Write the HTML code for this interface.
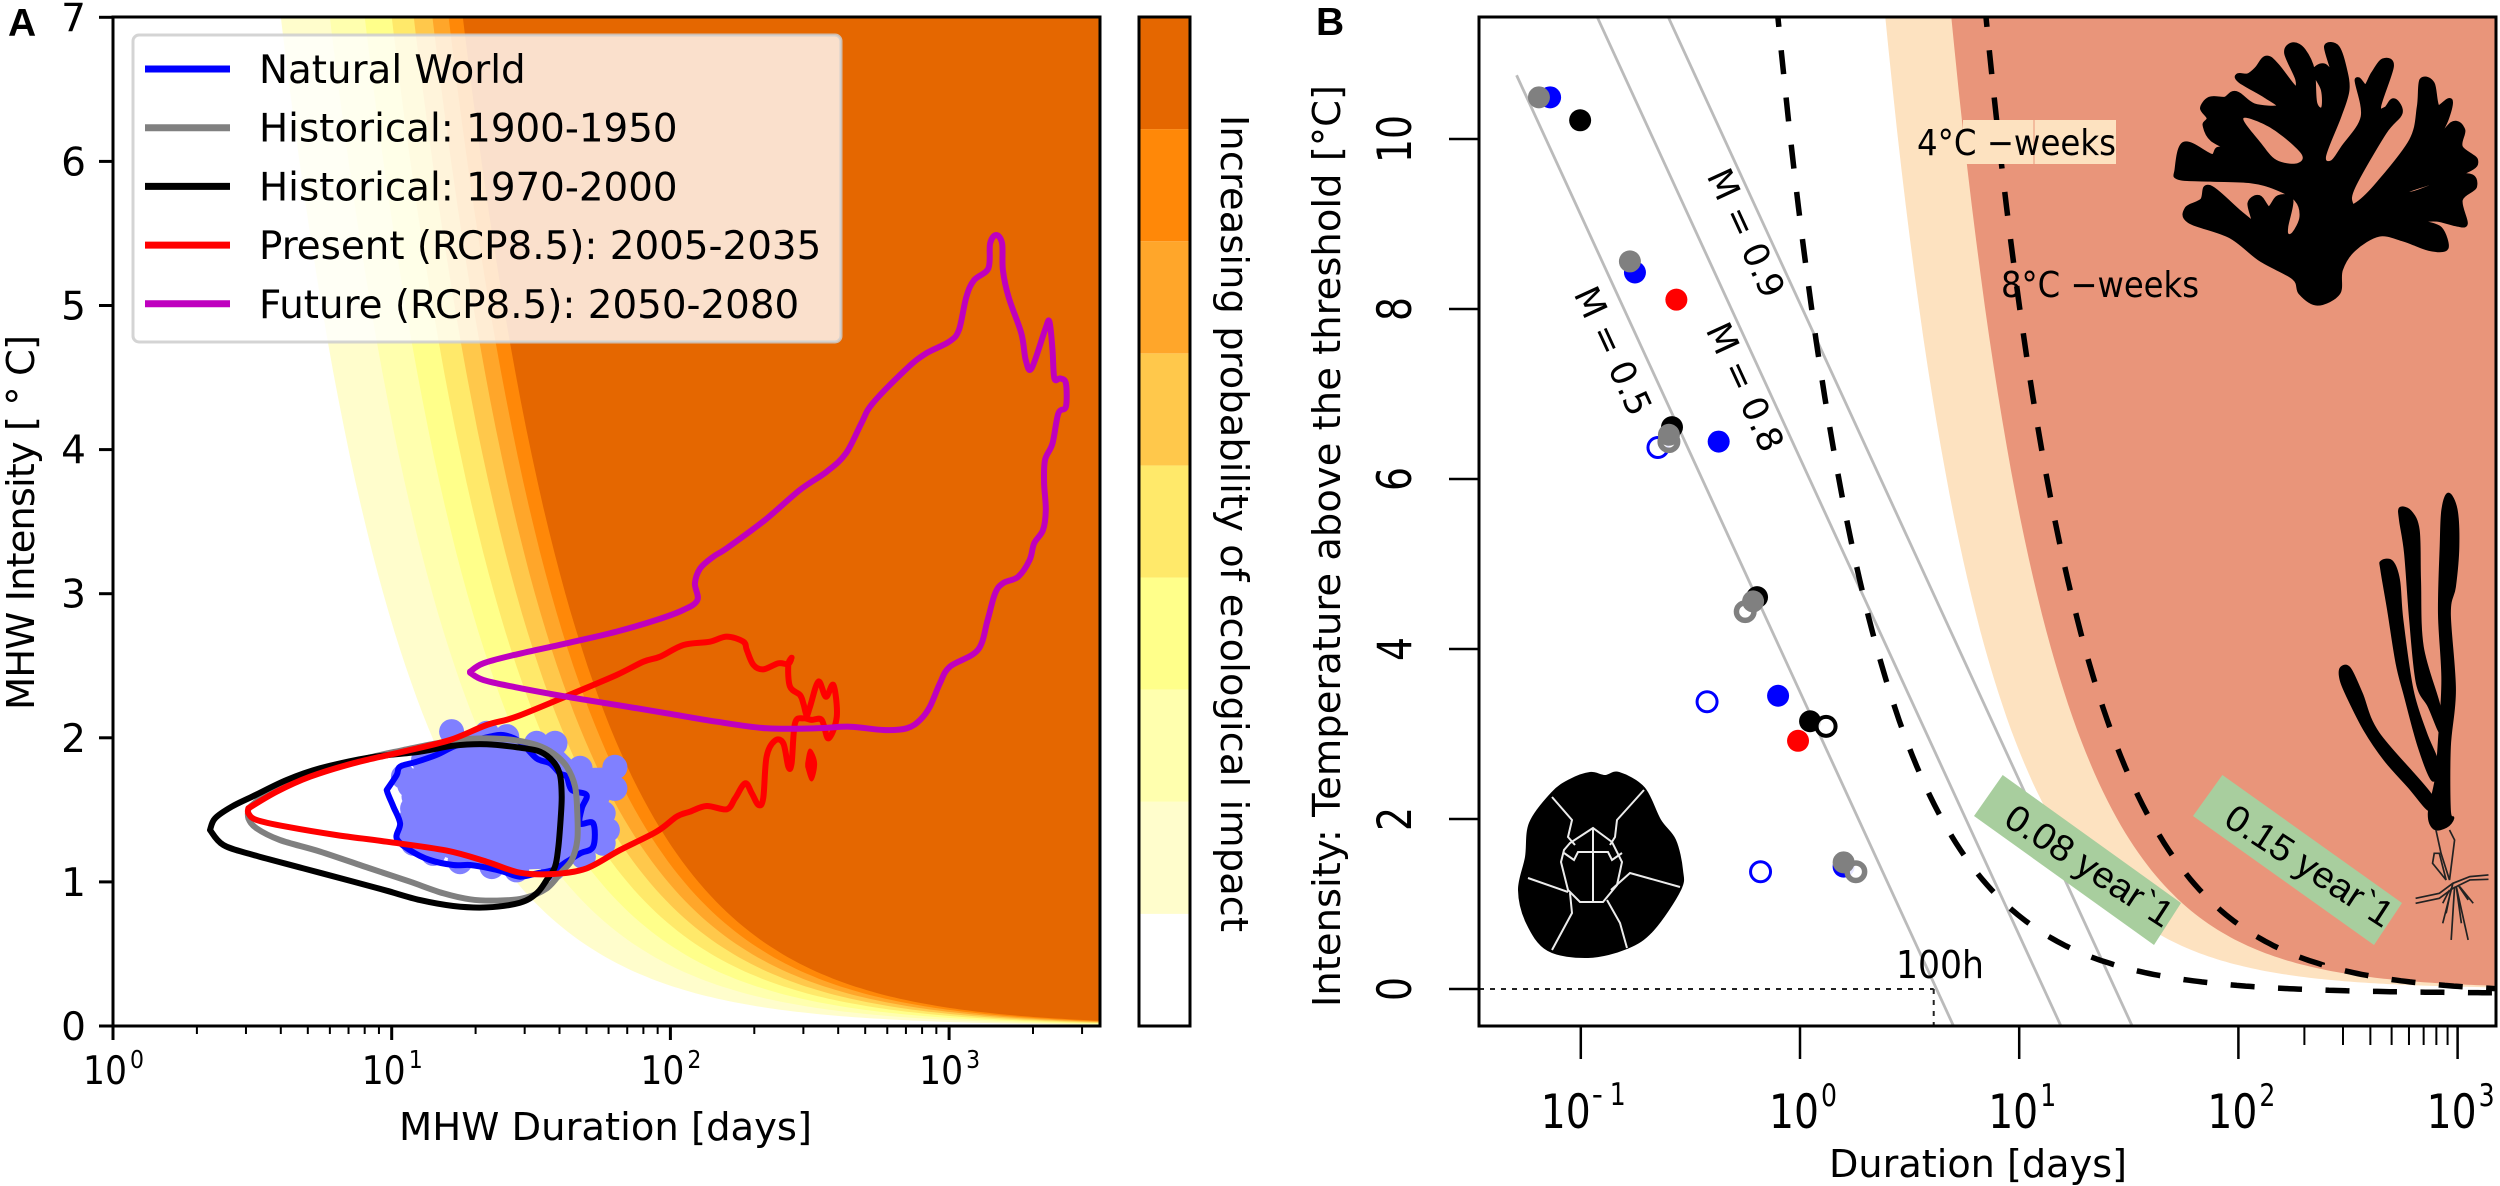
<!DOCTYPE html>
<html lang="en">
<head>
<meta charset="utf-8">
<title>Marine heatwave duration and intensity</title>
<style>
html,body{margin:0;padding:0;background:#fff;}
svg{display:block;}
text{font-family:"DejaVu Sans","Liberation Sans",sans-serif;fill:#000;}
</style>
</head>
<body>
<svg id="fig" xmlns="http://www.w3.org/2000/svg" width="2500" height="1186" viewBox="0 0 2500 1186">
  <defs>
    <clipPath id="clipA"><rect x="113" y="17" width="987" height="1009"/></clipPath>
    <clipPath id="clipB"><rect x="1479" y="17" width="1017" height="1009"/></clipPath>
  </defs>
  <rect width="2500" height="1186" fill="#fff"/>

  <g id="panelA">
    <g id="aPlot" clip-path="url(#clipA)"></g>
    <rect x="113" y="17" width="987" height="1009" fill="none" stroke="#000" stroke-width="3"/>
    <g id="aTicks"></g>
  </g>

  <g id="legend">
    <rect x="133" y="35" width="708" height="307" rx="6" fill="#fff" fill-opacity="0.8" stroke="#ccc" stroke-opacity="0.85" stroke-width="3"/>
  </g>

  <g id="colorbar"></g>
  <rect x="1139" y="17" width="51" height="1009" fill="none" stroke="#000" stroke-width="3"/>
  <text transform="translate(1221,115) rotate(90)" font-size="38.3" textLength="817" lengthAdjust="spacing">Increasing probability of ecological impact</text>

  <text x="8" y="36" font-size="39" font-weight="bold" style="font-family:'Liberation Sans',sans-serif">A</text>
  <text transform="translate(34,710) rotate(-90)" font-size="38.5" textLength="375" lengthAdjust="spacing">MHW Intensity [ ° C]</text>
  <text x="399" y="1140" font-size="38.5" textLength="413" lengthAdjust="spacingAndGlyphs">MHW Duration [days]</text>

  <g id="panelB">
    <g id="bPlot" clip-path="url(#clipB)"></g>
    <g id="bAnn">
      <rect x="1963" y="120" width="153" height="44" fill="#fde2c0"/>
      <line x1="2034" y1="120" x2="2034" y2="164" stroke="#e9957a" stroke-width="1"/>
      <text x="1917" y="155" font-size="36" textLength="199" lengthAdjust="spacingAndGlyphs">4°C −weeks</text>
      <text x="2001" y="297" font-size="36" textLength="198" lengthAdjust="spacingAndGlyphs">8°C −weeks</text>
      <text x="1896" y="978" font-size="38" textLength="88" lengthAdjust="spacingAndGlyphs">100h</text>
      <text transform="translate(1602,356) rotate(65.3)" font-size="35" text-anchor="middle">M = 0.5</text>
      <text transform="translate(1734,392) rotate(65.3)" font-size="35" text-anchor="middle">M = 0.8</text>
      <text transform="translate(1735,238) rotate(65.3)" font-size="35" text-anchor="middle">M = 0.9</text>

      <polygon points="2002.7,775 2181,903 2154,945 1974,816" fill="#a8ce9e"/>
      <text transform="translate(2002,824) rotate(33)" font-size="37" textLength="192" lengthAdjust="spacingAndGlyphs" style="font-family:'Liberation Sans',sans-serif">0.08 year`1</text>
      <polygon points="2222.4,775 2402,903 2374,945 2193,816" fill="#a8ce9e"/>
      <text transform="translate(2222,824) rotate(33)" font-size="37" textLength="192" lengthAdjust="spacingAndGlyphs" style="font-family:'Liberation Sans',sans-serif">0.15 year`1</text>

      <g transform="translate(1700,0) scale(0.5102,0.3333)">
        <path class="smooth-shape" fill="#000" stroke="#000" stroke-width="10" stroke-linejoin="round" data-outline="1210,912 1178,880 1165,835 1100,780 1040,710 960,665 955,625 985,600 998,560 1060,640 1085,665 1078,610 1095,590 1115,625 1135,590 1158,600 1148,680 1150,705 1165,700 1180,650 1170,600 1130,565 1080,545 1000,540 940,535 935,510 950,430 1003,467 1018,445 1055,460 1005,420 990,375 998,355 985,325 1000,295 1030,295 1050,278 1085,315 1135,320 1110,290 1060,245 1055,225 1075,225 1092,205 1110,172 1130,195 1165,262 1172,240 1150,160 1162,132 1182,150 1200,210 1205,310 1222,325 1222,270 1205,215 1222,195 1242,222 1228,140 1248,140 1262,200 1268,270 1252,350 1222,470 1240,485 1262,440 1300,350 1288,240 1305,260 1320,220 1340,180 1355,200 1330,320 1345,325 1360,300 1372,340 1340,400 1280,560 1275,610 1290,610 1330,550 1395,420 1410,320 1415,240 1435,250 1445,320 1470,300 1462,360 1435,445 1475,370 1495,390 1490,440 1520,480 1500,515 1390,570 1400,578 1500,525 1518,560 1490,600 1500,670 1485,675 1445,660 1415,665 1450,685 1462,745 1430,748 1380,720 1330,705 1280,750 1255,810 1250,880"></path>
        <path class="smooth-shape" fill="#e9957a" data-outline="1065,355 1120,385 1178,460 1170,490 1130,480 1100,430"></path>
      </g>

      <g transform="translate(2280,480) scale(0.339,0.3333)">
        <path class="smooth-shape" fill="#000" stroke="#000" stroke-width="8" data-outline="497,42 520,90 525,200 515,320 500,400 515,630 500,800 500,990 510,1015 490,1040 455,1045 440,1000 460,900 470,780 480,600 470,400 475,200 480,90"></path>
        <path class="smooth-shape" fill="#000" stroke="#000" stroke-width="8" data-outline="355,85 385,95 408,150 412,300 420,500 470,680 475,760 440,680 405,610 385,420 370,220 355,120"></path>
        <path class="smooth-shape" fill="#000" stroke="#000" stroke-width="8" data-outline="300,245 330,245 350,300 360,420 390,630 430,760 465,850 450,900 410,800 370,650 345,550 320,390 300,270"></path>
        <path class="smooth-shape" fill="#000" stroke="#000" stroke-width="8" data-outline="180,565 205,565 240,640 290,760 445,945 440,990 380,920 310,840 250,750 200,650 180,600"></path>
        <g fill="none" stroke="#222" stroke-width="5">
          <path d="M460,1050 L475,1120 L500,1200 L515,1080 L500,1050"/>
          <path d="M455,1120 L450,1150 L490,1200 L470,1120 Z"/>
          <path d="M400,1255 L470,1240 L510,1210 L560,1190 L615,1185"/>
          <path d="M400,1270 L470,1255 L510,1225 L560,1200 L615,1198"/>
          <path d="M510,1210 L480,1330 M515,1220 L505,1380 M520,1220 L555,1380 M530,1220 L570,1270 M500,1230 L480,1270 M520,1220 L535,1330 M525,1215 L555,1260 M505,1225 L490,1300"/>
        </g>
      </g>

      <g>
        <path class="smooth-shape" fill="#000" stroke="#000" stroke-width="2" stroke-linejoin="round" data-outline="1590,773 1570,780 1552,793 1530,823 1526,857 1519,890 1527,923 1548,950 1588,957 1627,948 1653,930 1680,890 1682,870 1675,840 1660,820 1644,788 1619,773 1605,776"></path>
        <g fill="none" stroke="#ececec" stroke-width="2">
          <path d="M1552,797 L1572,820 L1568,837 L1575,845"/>
          <path d="M1644,790 L1617,820 L1615,837 L1610,845"/>
          <path d="M1593,828 L1570,843 L1564,850 L1561,862 L1568,890 L1580,902 L1603,902 L1617,885 L1622,862 L1612,842 Z"/>
          <path d="M1593,828 L1593,902"/>
          <path d="M1564,853 L1574,860 L1578,852 L1608,852 L1612,860 L1622,853"/>
          <path d="M1570,893 L1572,913 L1552,950"/>
          <path d="M1607,900 L1620,923 L1627,948"/>
          <path d="M1528,878 L1568,892"/>
          <path d="M1680,887 L1630,873 L1611,890"/>
        </g>
      </g>
    </g>
    <g id="bDots" clip-path="url(#clipB)"></g>
    <rect x="1479" y="17" width="1017" height="1009" fill="none" stroke="#000" stroke-width="3"/>
    <g id="bTicks"></g>
  </g>

  <text x="1316" y="35" font-size="39" font-weight="bold" style="font-family:'Liberation Sans',sans-serif">B</text>
  <text transform="translate(1340,1007) rotate(-90)" font-size="38.4" textLength="922" lengthAdjust="spacing">Intensity: Temperature above the threshold [°C]</text>
  <text x="1829" y="1177" font-size="38.2" textLength="298" lengthAdjust="spacingAndGlyphs">Duration [days]</text>
</svg>

<script>
// ---------- Panel A data ----------
const contourLevels = [28, 42, 56, 70, 84, 98, 112, 126];
const bandColors = ['#ffffff', '#fffdcc', '#ffffae', '#ffff8a', '#ffe96a', '#ffc84b', '#ffa62a', '#ff8808', '#e56700'];

const aYTicks = [0, 1, 2, 3, 4, 5, 6, 7];
const aXDecades = [0, 1, 2, 3];
const aMinorMultipliers = [2, 3, 4, 5, 6, 7, 8, 9];

const legendLabels = ['Natural World', 'Historical: 1900-1950', 'Historical: 1970-2000', 'Present (RCP8.5): 2005-2035', 'Future (RCP8.5): 2050-2080'];
const legendColors = ['#0000ff', '#808080', '#000000', '#ff0000', '#bf00bf'];

const naturalLogDur = [1.042,1.114,1.215,1.341,1.413,1.520,1.586,1.676,1.801,1.801,1.759,1.774,1.759,1.688,1.580,1.448,1.359,1.245,1.149,1.078,1.060,1.068,1.075,1.080,1.065];
const naturalIntensity = [1.730,1.846,2.043,2.031,2.008,1.962,1.962,1.788,1.795,1.649,1.476,1.360,1.268,1.175,1.094,1.083,1.106,1.140,1.198,1.268,1.330,1.430,1.510,1.592,1.670];

const blueLogDur = [.982,1.018,1.030,1.090,1.161,1.221,1.281,1.353,1.401,1.460,1.520,1.568,1.604,1.628,1.646,1.699,1.682,1.676,1.723,1.723,1.676,1.628,1.580,1.520,1.460,1.401,1.353,1.281,1.221,1.137,1.065,1.018,1.030,1.006,.988,.982];
const blueIntensity = [1.638,1.742,1.800,1.834,1.881,1.938,1.973,2.008,2.019,1.973,1.857,1.823,1.753,1.730,1.638,1.603,1.511,1.406,1.406,1.245,1.198,1.140,1.083,1.059,1.036,1.071,1.094,1.117,1.117,1.152,1.221,1.302,1.406,1.522,1.603,1.638];

const greyLogDur = [.486,.563,.683,.803,.922,1.042,1.161,1.257,1.341,1.436,1.520,1.580,1.628,1.658,1.666,1.666,1.646,1.610,1.556,1.472,1.377,1.281,1.185,1.065,.922,.743,.599,.515,.486,.486];
const greyIntensity = [1.511,1.626,1.719,1.795,1.864,1.915,1.962,1.989,1.996,1.985,1.950,1.892,1.800,1.661,1.476,1.291,1.152,1.071,.955,.886,.870,.879,.921,1.002,1.094,1.210,1.291,1.372,1.441,1.511];

const blackLogDur = [.348,.366,.426,.504,.623,.743,.922,1.102,1.221,1.341,1.460,1.532,1.580,1.604,1.610,1.606,1.598,1.586,1.556,1.520,1.460,1.341,1.221,1.102,.982,.862,.683,.504,.396,.348];
const blackIntensity = [1.360,1.441,1.522,1.596,1.707,1.788,1.864,1.904,1.945,1.955,1.931,1.904,1.834,1.742,1.592,1.430,1.245,1.106,1.013,.921,.856,.823,.833,.874,.939,1.002,1.094,1.187,1.256,1.360];

const redLogDur = [.486,.486,.515,.623,.803,.982,1.197,1.341,1.460,1.580,1.699,1.819,1.951,2.023,2.070,2.130,2.202,2.232,2.268,2.292,2.316,2.333,2.345,2.375,2.405,2.423,2.435,2.447,2.477,2.507,2.543,2.567,2.597,2.585,2.558,2.531,2.501,2.489,2.477,2.465,2.429,2.423,2.435,2.423,2.387,2.333,2.298,2.274,2.262,2.202,2.142,2.047,1.963,1.903,1.807,1.652,1.448,1.341,1.209,1.042,.862,.707,.587,.486];
const redIntensity = [1.511,1.476,1.430,1.383,1.325,1.279,1.217,1.140,1.064,1.055,1.094,1.221,1.349,1.453,1.487,1.527,1.504,1.580,1.684,1.615,1.534,1.580,1.869,1.980,1.962,1.800,1.823,2.100,2.135,2.124,2.124,1.996,2.147,2.366,2.285,2.390,2.216,2.158,2.239,2.297,2.355,2.505,2.556,2.512,2.517,2.475,2.505,2.609,2.667,2.702,2.667,2.644,2.563,2.528,2.436,2.309,2.147,2.089,1.985,1.904,1.823,1.730,1.626,1.511];

const redIslandLogDur = [2.489,2.501,2.521,2.507,2.489];
const redIslandIntensity = [1.823,1.915,1.823,1.707,1.800];

const purpleLogDur = [1.281,1.329,1.448,1.628,1.807,1.987,2.166,2.345,2.525,2.644,2.764,2.848,2.896,2.931,2.967,3.003,3.103,3.138,3.165,3.193,3.248,3.289,3.305,3.337,3.347,3.341,3.344,3.371,3.392,3.419,3.419,3.399,3.378,3.371,3.360,3.344,3.296,3.275,3.259,3.213,3.193,3.190,3.169,3.147,3.141,3.090,3.062,3.035,3.000,2.918,2.849,2.726,2.685,2.630,2.561,2.465,2.339,2.202,2.154,2.107,2.088,2.097,2.046,1.951,1.807,1.628,1.448,1.329,1.281];
const purpleIntensity = [2.452,2.401,2.350,2.285,2.228,2.170,2.112,2.066,2.066,2.077,2.054,2.066,2.124,2.216,2.378,2.494,2.609,2.817,3.002,3.072,3.118,3.234,3.349,3.442,3.581,3.766,3.928,4.043,4.252,4.298,4.460,4.494,4.494,4.691,4.888,4.830,4.564,4.622,4.807,5.061,5.246,5.431,5.489,5.431,5.258,5.177,5.061,4.830,4.749,4.668,4.564,4.321,4.182,3.974,3.847,3.720,3.511,3.315,3.257,3.176,3.072,2.956,2.887,2.818,2.737,2.656,2.579,2.517,2.459];

// ---------- Panel B data ----------
const bYTicks = [0, 2, 4, 6, 8, 10];
const bXDecades = [-1, 0, 1, 2, 3];
const bMinorValues = [200, 300, 400, 500, 600, 700, 800, 900];
const heatFillLevels = [28, 56];
const heatFillColors = ['#fde2c0', '#e9957a'];
const dashedLevels = [9.1, 81];
const dashedOffset = -0.05;

const mortalityLogDurStart = [-1.293, -0.926, -0.602];
const mortalityIntensityStart = [10.75, 11.44, 11.44];
const mortalityLogDurEnd = [0.703, 1.193, 1.518];
const mortalityIntensityEnd = [-0.45, -0.45, -0.45];

const refLogDur = 0.61;
const refIntensity = 0;

const openBlueLogDur = [-.648, -.424, -.180];
const openBlueIntensity = [6.37, 3.38, 1.38];
const blueFilledLogDur = [-1.140, -.753, -.371, -.100, .199];
const blueFilledIntensity = [10.49, 8.43, 6.44, 3.45, 1.44];
const redFilledLogDur = [-.564, -.009];
const redFilledIntensity = [8.11, 2.92];
const blackFilledLogDur = [-1.003, -.584, -.196, .046];
const blackFilledIntensity = [10.22, 6.61, 4.61, 3.15];
const openBlackLogDur = [.119];
const openBlackIntensity = [3.09];
const greyFilledLogDur = [-1.191, -.776, -.598, -.214, .199];
const greyFilledIntensity = [10.49, 8.56, 6.52, 4.56, 1.49];
const openGreyLogDur = [-.598, -.250, .255];
const openGreyIntensity = [6.44, 4.44, 1.38];

// ---------- axis functions ----------
const xA = l => 113 + 278.7 * l;
const yA = v => 1026 - 144.1 * v;
const xB = l => 1800 + 219.2 * l;
const yB = v => 989 - 85 * v;
const yBand = i => 1026 - i * (1009 / 9);

const NS = 'http://www.w3.org/2000/svg';
function make(tag, parent, attrs) {
  const el = document.createElementNS(NS, tag);
  for (const k in attrs) el.setAttribute(k, attrs[k]);
  parent.appendChild(el);
  return el;
}
function smooth(px, py) {
  let d = 'M' + px[0].toFixed(1) + ',' + py[0].toFixed(1);
  for (let i = 0; i < px.length - 1; i++) {
    const p0 = Math.max(i - 1, 0), p3 = Math.min(i + 2, px.length - 1);
    const c1x = px[i] + (px[i + 1] - px[p0]) / 6, c1y = py[i] + (py[i + 1] - py[p0]) / 6;
    const c2x = px[i + 1] - (px[p3] - px[i]) / 6, c2y = py[i + 1] - (py[p3] - py[i]) / 6;
    d += 'C' + c1x.toFixed(1) + ',' + c1y.toFixed(1) + ' ' + c2x.toFixed(1) + ',' + c2y.toFixed(1) + ' ' + px[i + 1].toFixed(1) + ',' + py[i + 1].toFixed(1);
  }
  return d;
}
function isoPoints(level, xf, yf, top, right, offset) {
  const pts = [];
  const off = offset || 0;
  const start = Math.log10(level / (top - off));
  for (let l = start; l <= right + 0.001; l += 0.02) {
    pts.push(xf(l).toFixed(1) + ',' + yf(level / Math.pow(10, l) + off).toFixed(1));
  }
  return pts;
}

// ---------- Smooth the icon outlines ----------
document.querySelectorAll('.smooth-shape').forEach(el => {
  const pts = el.getAttribute('data-outline').split(' ').map(s => s.split(',').map(Number));
  const n = pts.length;
  let d = 'M' + pts[0][0] + ',' + pts[0][1];
  for (let i = 0; i < n; i++) {
    const a = pts[(i - 1 + n) % n], b = pts[i], c = pts[(i + 1) % n], e = pts[(i + 2) % n];
    d += 'C' + (b[0] + (c[0] - a[0]) / 6).toFixed(1) + ',' + (b[1] + (c[1] - a[1]) / 6).toFixed(1) + ' ' + (c[0] - (e[0] - b[0]) / 6).toFixed(1) + ',' + (c[1] - (e[1] - b[1]) / 6).toFixed(1) + ' ' + c[0] + ',' + c[1];
  }
  el.setAttribute('d', d + 'Z');
});

// ---------- Panel A marks ----------
const aPlot = document.getElementById('aPlot');
contourLevels.forEach((lv, i) => {
  const pts = isoPoints(lv, xA, yA, 7.2, 3.6);
  pts.push(xA(3.6) + ',' + yA(7.2));
  const el = make('polygon', aPlot, { points: pts.join(' '), fill: bandColors[i + 1] });
  
  
});

const cloud = make('polygon', aPlot, { points: naturalLogDur.map((l, i) => xA(l).toFixed(1) + ',' + yA(naturalIntensity[i]).toFixed(1)).join(' '), fill: '#8080ff' });


naturalLogDur.forEach((l, i) => {
  const el = make('circle', aPlot, { cx: xA(l).toFixed(1), cy: yA(naturalIntensity[i]).toFixed(1), r: 12.5, fill: '#8080ff' });
  
  
});

function drawCurve(logs, vals, color) {
  return make('path', aPlot, { d: smooth(logs.map(xA), vals.map(yA)), fill: 'none', stroke: color, 'stroke-width': 6, 'stroke-linejoin': 'round', 'stroke-linecap': 'round' });
}
const blueCurve = drawCurve(blueLogDur, blueIntensity, legendColors[0]);


const greyCurve = drawCurve(greyLogDur, greyIntensity, legendColors[1]);


const blackCurve = drawCurve(blackLogDur, blackIntensity, legendColors[2]);


const redCurve = drawCurve(redLogDur, redIntensity, legendColors[3]);


const redIsland = make('path', aPlot, { d: smooth(redIslandLogDur.map(xA), redIslandIntensity.map(yA)) + 'Z', fill: legendColors[3], stroke: legendColors[3], 'stroke-width': 3 });


const purpleCurve = drawCurve(purpleLogDur, purpleIntensity, legendColors[4]);



// ---------- Panel A ticks ----------
const aTicks = document.getElementById('aTicks');
aYTicks.forEach(v => {
  const t = make('line', aTicks, { x1: 99, x2: 113, y1: yA(v), y2: yA(v), stroke: '#000', 'stroke-width': 3 });
  
  
  const lb = make('text', aTicks, { x: 86, y: yA(v) + 14, 'font-size': 39, 'text-anchor': 'end' });
  lb.textContent = v;
  
  
});
aXDecades.forEach(d => {
  const x = xA(d);
  const t = make('line', aTicks, { x1: x, x2: x, y1: 1026, y2: 1040, stroke: '#000', 'stroke-width': 3 });
  
  
  const lb = make('text', aTicks, { x: x - 30, y: 1084, 'font-size': 39, textLength: 44, lengthAdjust: 'spacingAndGlyphs' });
  lb.textContent = '10';
  
  
  const sup = make('text', aTicks, { x: x + 17, y: 1068, 'font-size': 25, textLength: 14, lengthAdjust: 'spacingAndGlyphs' });
  sup.textContent = d;
  
  
  aMinorMultipliers.forEach(m => {
    const l = d + Math.log10(m);
    if (xA(l) > 1100) return;
    const mt = make('line', aTicks, { x1: xA(l), x2: xA(l), y1: 1026, y2: 1034, stroke: '#000', 'stroke-width': 2 });
    
    
  });
});

// ---------- Legend ----------
const legend = document.getElementById('legend');
legendLabels.forEach((txt, i) => {
  const ly = 69 + i * 58.7;
  const ln = make('line', legend, { x1: 145, x2: 230, y1: ly, y2: ly, stroke: legendColors[i], 'stroke-width': 7 });
  
  
  const lb = make('text', legend, { x: 259, y: 83 + i * 58.7, 'font-size': 38.8 });
  lb.textContent = txt;
  
  
});

// ---------- Colorbar ----------
const colorbar = document.getElementById('colorbar');
bandColors.forEach((c, i) => {
  const el = make('rect', colorbar, { x: 1139, width: 51, y: yBand(i + 1), height: yBand(i) - yBand(i + 1), fill: c });
  
  
});

// ---------- Panel B marks ----------
const bPlot = document.getElementById('bPlot');
heatFillLevels.forEach((lv, i) => {
  const pts = isoPoints(lv, xB, yB, 11.6, 3.2);
  pts.push(xB(3.2) + ',' + yB(11.6));
  const el = make('polygon', bPlot, { points: pts.join(' '), fill: heatFillColors[i] });
  
  
});
mortalityLogDurStart.forEach((l, i) => {
  const el = make('line', bPlot, { x1: xB(l), y1: yB(mortalityIntensityStart[i]), x2: xB(mortalityLogDurEnd[i]), y2: yB(mortalityIntensityEnd[i]), stroke: '#bbb', 'stroke-width': 2.8 });
  
  
});
dashedLevels.forEach(lv => {
  const pts = isoPoints(lv, xB, yB, 11.6, 3.2, dashedOffset);
  const el = make('polyline', bPlot, { points: pts.join(' '), fill: 'none', stroke: '#000', 'stroke-width': 5.5, 'stroke-dasharray': '24 23.5' });
  
  
});
const refH = make('line', bPlot, { x1: 1479, x2: xB(refLogDur), y1: yB(refIntensity), y2: yB(refIntensity), stroke: '#222', 'stroke-width': 2, 'stroke-dasharray': '5 6' });


const refV = make('line', bPlot, { x1: xB(refLogDur), x2: xB(refLogDur), y1: yB(refIntensity), y2: 1026, stroke: '#222', 'stroke-width': 2, 'stroke-dasharray': '5 6' });



const bDots = document.getElementById('bDots');
function filled(logs, vals, color) {
  return logs.map((l, i) => make('circle', bDots, { cx: xB(l), cy: yB(vals[i]), r: 11, fill: color }));
}
function open(logs, vals, color, sw) {
  return logs.map((l, i) => make('circle', bDots, { cx: xB(l), cy: yB(vals[i]), r: 11.5 - sw / 2, fill: '#fff', 'fill-opacity': 0.9, stroke: color, 'stroke-width': sw }));
}
open(openBlueLogDur, openBlueIntensity, '#0000ff', 3).forEach(el => {
  
  
});
filled(blueFilledLogDur, blueFilledIntensity, '#0000ff').forEach(el => {
  
  
});
filled(redFilledLogDur, redFilledIntensity, '#ff0000').forEach(el => {
  
  
});
filled(blackFilledLogDur, blackFilledIntensity, '#000000').forEach(el => {
  
  
});
open(openBlackLogDur, openBlackIntensity, '#000000', 4).forEach(el => {
  
  
});
open(openGreyLogDur, openGreyIntensity, '#808080', 5.5).forEach(el => {
  
  
});
filled(greyFilledLogDur, greyFilledIntensity, '#808080').forEach(el => {
  
  
});

// ---------- Panel B ticks ----------
const bTicks = document.getElementById('bTicks');
bYTicks.forEach(v => {
  const t = make('line', bTicks, { x1: 1449, x2: 1479, y1: yB(v), y2: yB(v), stroke: '#000', 'stroke-width': 2.5 });
  
  
  const lb = make('text', bTicks, { transform: 'translate(1411,' + yB(v) + ') rotate(-90)', 'font-size': 47, 'text-anchor': 'middle', textLength: v >= 10 ? 48 : 24, lengthAdjust: 'spacingAndGlyphs' });
  lb.textContent = v;
  
  
});
bXDecades.forEach(d => {
  const x = xB(d);
  const t = make('line', bTicks, { x1: x, x2: x, y1: 1026, y2: 1059, stroke: '#000', 'stroke-width': 2.5 });
  
  
  const left = d < 0 ? x - 40 : x - 31;
  const lb = make('text', bTicks, { x: left, y: 1128, 'font-size': 47, textLength: 50, lengthAdjust: 'spacingAndGlyphs' });
  lb.textContent = '10';
  
  
  if (d < 0) {
    const dash = make('text', bTicks, { x: x + 11, y: 1105, 'font-size': 31 });
    dash.textContent = '-';
    
    
    const sup = make('text', bTicks, { x: x + 29, y: 1105, 'font-size': 31, textLength: 16, lengthAdjust: 'spacingAndGlyphs' });
    sup.textContent = Math.abs(d);
    
    
  } else {
    const sup = make('text', bTicks, { x: x + 21, y: 1106, 'font-size': 31, textLength: 16, lengthAdjust: 'spacingAndGlyphs' });
    sup.textContent = d;
    
    
  }
});
bMinorValues.forEach(m => {
  const x = xB(Math.log10(m));
  const t = make('line', bTicks, { x1: x, x2: x, y1: 1026, y2: 1045, stroke: '#000', 'stroke-width': 2 });
  
  
});
</script>
</body>
</html>
